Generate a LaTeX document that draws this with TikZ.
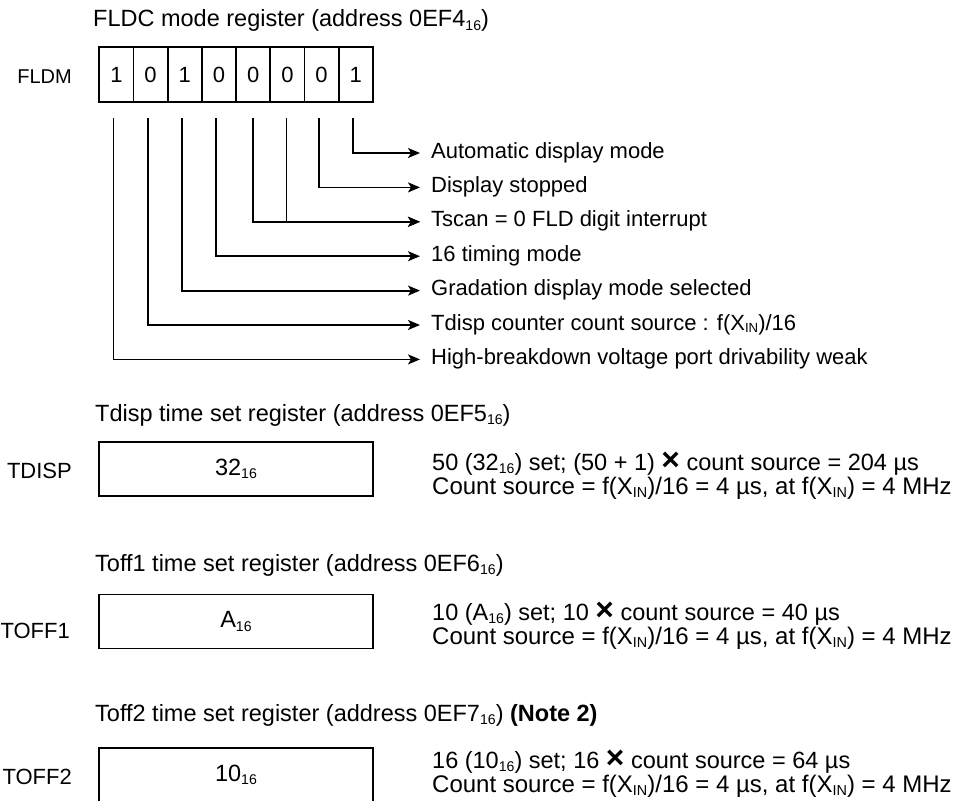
\documentclass[tikz,border=0pt]{standalone}
\usepackage{fontspec}
\setmainfont{Liberation Sans}
\usetikzlibrary{positioning,arrows.meta,calc}
\newcommand{\hsub}[1]{\raisebox{-0.25ex}{\scalebox{0.6}{#1}}}
\newcommand{\timesx}{\raisebox{-0.05ex}{\scalebox{1.35}{\bfseries ×}}}
\tikzset{
  regtitle/.style={anchor=base west,inner sep=0pt,font=\fontsize{23.5}{26}\selectfont},
  reglabel/.style={anchor=east,inner sep=0pt,font=\fontsize{22}{26}\selectfont},
  bitcell/.style={draw,line width=1.8pt,minimum width=34.2pt,minimum height=55pt,
    inner sep=0pt,outer sep=0pt,font=\fontsize{22}{26}\selectfont},
  regbox/.style={draw,line width=1.8pt,minimum width=273.4pt,minimum height=54pt,
    inner sep=0pt,outer sep=0pt,font=\fontsize{23.5}{26}\selectfont},
  desc/.style={anchor=west,inner xsep=11pt,inner ysep=0pt,minimum height=34pt,
    text height=15pt,text depth=5pt,font=\fontsize{22}{26}\selectfont},
  note/.style={anchor=base west,inner sep=0pt,font=\fontsize{23.5}{26}\selectfont},
  srcnote/.style={note,font=\fontsize{24}{26}\selectfont},
  bitline/.style={line width=1.8pt,-{Stealth[length=12pt,width=10pt,inset=3pt]}}
}
\begin{document}
\begin{tikzpicture}[x=1pt,y=-1pt]
  \useasboundingbox (0,0) rectangle (955,800);
  \clip (0,0) rectangle (955,800);
  % FLDC mode register
  \node[regtitle] (fldmtitle) at (93,27) {FLDC mode register (address 0EF4\hsub{16})};
  \node[reglabel,font=\fontsize{20}{24}\selectfont] (fldm) at (72,77) {FLDM};
  \node[bitcell] (b7) at (116.4,74.5) {1};
  \node[bitcell,right=0pt of b7] (b6) {0};
  \node[bitcell,right=0pt of b6] (b5) {1};
  \node[bitcell,right=0pt of b5] (b4) {0};
  \node[bitcell,right=0pt of b4] (b3) {0};
  \node[bitcell,right=0pt of b3] (b2) {0};
  \node[bitcell,right=0pt of b2] (b1) {0};
  \node[bitcell,right=0pt of b1] (b0) {1};
  \node[desc] (d0) at (420,153) {Automatic display mode};
  \node[desc,below=0pt of d0.south west,anchor=north west] (d1) {Display stopped};
  \node[desc,below=0pt of d1.south west,anchor=north west] (d2) {Tscan = 0 FLD digit interrupt};
  \node[desc,below=0pt of d2.south west,anchor=north west] (d3) {16 timing mode};
  \node[desc,below=0pt of d3.south west,anchor=north west] (d4) {Gradation display mode selected};
  \node[desc,below=0pt of d4.south west,anchor=north west] (d5) {Tdisp counter count source : f(X\hsub{IN})/16};
  \node[desc,below=0pt of d5.south west,anchor=north west] (d6) {High-breakdown voltage port drivability weak};
  \draw[bitline] ([xshift=-3pt,yshift=-16pt]b0.south) |- (d0.west);
  \draw[bitline] ([xshift=-3pt,yshift=-16pt]b1.south) |- (d1.west);
  \draw[bitline] ([xshift=-1pt,yshift=-16pt]b2.south) |- (d2.west);
  \draw[bitline] ([yshift=-16pt]b3.south) |- (d2.west);
  \draw[bitline] ([xshift=-3pt,yshift=-16pt]b4.south) |- (d3.west);
  \draw[bitline] ([xshift=-3pt,yshift=-16pt]b5.south) |- (d4.west);
  \draw[bitline] ([xshift=-3pt,yshift=-16pt]b6.south) |- (d5.west);
  \draw[bitline] ([xshift=-3pt,yshift=-16pt]b7.south) |- (d6.west);
  % Tdisp time set register
  \node[regtitle] (tdisptitle) at (95,421) {Tdisp time set register (address 0EF5\hsub{16})};
  \node[regbox] (tdisp) at (236,469) {32\hsub{16}};
  \node[reglabel] (tdisplabel) at (72,471) {TDISP};
  \node[note] (tdispnote) at (432,470) {50 (32\hsub{16}) set; (50 + 1) \timesx{} count source = 204 µs};
  \node[srcnote] (tdispsrc) at (432,494) {Count source = f(X\hsub{IN})/16 = 4 µs, at f(X\hsub{IN}) = 4 MHz};
  % Toff1 time set register
  \node[regtitle] (tofftitle) at (95,571) {Toff1 time set register (address 0EF6\hsub{16})};
  \node[regbox] (toff) at (236,621.5) {A\hsub{16}};
  \node[reglabel] (tofflabel) at (70,631) {TOFF1};
  \node[note] (toffnote) at (432,620) {10 (A\hsub{16}) set; 10 \timesx{} count source = 40 µs};
  \node[srcnote] (toffsrc) at (432,644) {Count source = f(X\hsub{IN})/16 = 4 µs, at f(X\hsub{IN}) = 4 MHz};
  % Toff2 time set register
  \node[regtitle] (tofftwotitle) at (95,721) {Toff2 time set register (address 0EF7\hsub{16}) \textbf{(Note 2)}};
  \node[regbox] (tofftwo) at (236,775) {10\hsub{16}};
  \node[reglabel] (tofftwolabel) at (72,777) {TOFF2};
  \node[note] (tofftwonote) at (432,768) {16 (10\hsub{16}) set; 16 \timesx{} count source = 64 µs};
  \node[srcnote] (tofftwosrc) at (432,792) {Count source = f(X\hsub{IN})/16 = 4 µs, at f(X\hsub{IN}) = 4 MHz};
\end{tikzpicture}
\end{document}
